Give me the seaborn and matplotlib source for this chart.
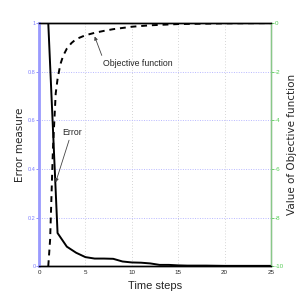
import seaborn as sns
import matplotlib.pyplot as plt
import pandas as pd

# values
err_t = [1, 2, 3, 4, 5, 6, 7, 8, 9, 10, 11, 12, 13, 14, 15, 16, 17, 18, 20, 22, 25]
err_v = [1.0, 0.136, 0.08, 0.055, 0.037, 0.031, 0.031, 0.030, 0.019, 0.015, 0.014,
         0.011, 0.005, 0.005, 0.003, 0.002, 0.002, 0.002, 0.001, 0.001, 0.001]

obj_t = [1, 1.2, 1.5, 1.8, 2, 2.3, 2.6, 3, 3.5, 4, 5, 6, 7, 8, 10, 12, 15, 20, 25]
obj_v = [-10.0, -8.9, -5.2, -2.9, -2.3, -1.7, -1.35, -1.05, -0.82, -0.66, -0.5,
         -0.4, -0.32, -0.25, -0.15, -0.09, -0.04, -0.01, 0.0]

x_ticks = [0, 5, 10, 15, 20, 25]
left_ticks = [0, 0.2, 0.4, 0.6, 0.8, 1]
right_ticks = [-10, -8, -6, -4, -2, 0]

err_df = pd.DataFrame({"t": err_t, "v": err_v})
obj_df = pd.DataFrame({"t": obj_t, "v": obj_v})

sns.set_style("white")
narrow = ["Liberation Sans", "DejaVu Sans"]

fig = plt.figure(figsize=(3, 3), dpi=100)
ax = fig.add_axes([0.13, 0.113, 0.773, 0.81])
ax2 = ax.twinx()

sns.lineplot(data=err_df, x="t", y="v", ax=ax, color="black", linewidth=1.4)
sns.lineplot(data=obj_df, x="t", y="v", ax=ax2, color="black", linewidth=1.4,
             linestyle=(0, (3, 2.5)))

ax.set_xlim(0, 25)
ax.set_ylim(0, 1)
ax2.set_ylim(-10, 0)
ax.set_xticks(x_ticks)
ax.set_yticks(left_ticks)
ax2.set_yticks(right_ticks)
ax.set_xticklabels([str(v) for v in x_ticks], fontsize=4.5, family=narrow)
ax.set_yticklabels([str(v) for v in left_ticks], fontsize=4, family=narrow, color="#7f7fff")
ax2.set_yticklabels([str(v) for v in right_ticks], fontsize=4.5, family=narrow, color="#55cc55")

ax.tick_params(axis="both", length=2, width=0.6, pad=1)
ax.tick_params(axis="y", colors="#7f7fff", pad=0.5)
ax2.tick_params(axis="y", length=2, width=0.6, pad=1, colors="#55cc55")

# grid
for v in x_ticks[1:-1]:
    ax.axvline(v, color="#c8c8c8", linestyle=(0, (1, 2.5)), linewidth=0.6, zorder=0)
for v in left_ticks[1:-1]:
    ax.axhline(v, color="#b8b8ff", linestyle=(0, (1, 1.5)), linewidth=0.7, zorder=0)

for a in (ax, ax2):
    a.spines["top"].set_color("black")
    a.spines["bottom"].set_color("black")
    a.spines["top"].set_linewidth(1.0)
    a.spines["bottom"].set_linewidth(1.0)
ax2.spines["left"].set_color("#9a9aff")
ax2.spines["left"].set_linewidth(2)
ax2.spines["right"].set_color("#88c888")
ax2.spines["right"].set_linewidth(1)

ax.set_xlabel("Time steps", fontsize=8, family=narrow, labelpad=4)
ax.set_ylabel("Error measure", fontsize=7.5)
ax.yaxis.set_label_coords(-0.06, 0.5)
ax2.set_ylabel("Value of Objective function", fontsize=7.5, labelpad=2, rotation=90)

ax.annotate("Objective function", xy=(6.0, 0.945), xytext=(6.9, 0.835),
            fontsize=6.3, family=narrow, ha="left", va="center",
            arrowprops=dict(arrowstyle="-|>", color="#444444", lw=0.6,
                            mutation_scale=5, shrinkA=0, shrinkB=0,
                            relpos=(0.0, 1.0)))
ax.annotate("Error", xy=(1.8, 0.345), xytext=(2.5, 0.55),
            fontsize=6.3, family=narrow, ha="left", va="center",
            arrowprops=dict(arrowstyle="-|>", color="#444444", lw=0.6,
                            mutation_scale=5, shrinkA=0, shrinkB=0,
                            relpos=(0.4, 0.0)))

fig.savefig("out.png", dpi=100)
